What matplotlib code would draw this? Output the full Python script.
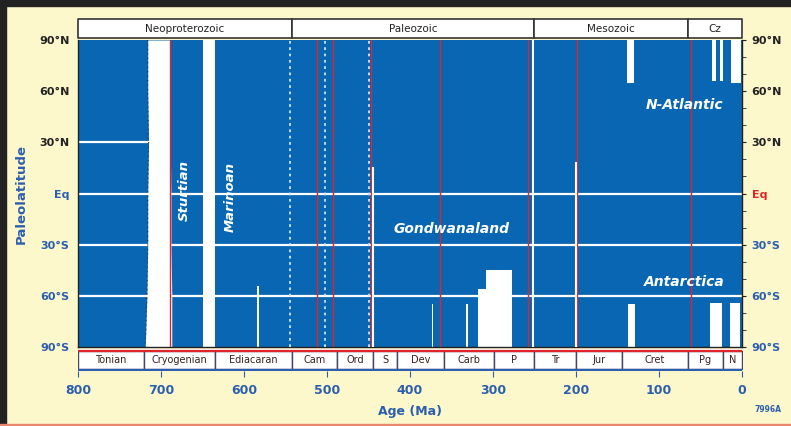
import numpy as np
import matplotlib
matplotlib.use("Agg")
import matplotlib.pyplot as plt
from matplotlib.patches import Rectangle

# --- data ---
BLUE = "#0866b2"
CREAM = "#fdf8cc"
TXT_BLUE = "#2b5fae"
RED = "#e0242a"

eras = ["Neoproterozoic", "Paleozoic", "Mesozoic", "Cz"]
era_start = [1000, 542, 251, 65.5]
era_end = [542, 251, 65.5, 0]

periods = ["Tonian", "Cryogenian", "Ediacaran", "Cam", "Ord", "S", "Dev",
           "Carb", "P", "Tr", "Jur", "Cret", "Pg", "N"]
period_start = [1000, 720, 635, 542, 488, 444, 416, 359, 299, 251, 200, 145, 65.5, 23]
period_end = period_start[1:] + [0]

age_ticks = [800, 700, 600, 500, 400, 300, 200, 100, 0]
lat_ticks = [90, 60, 30, 0, -30, -60, -90]
lat_labels = ["90°N", "60°N", "30°N", "Eq", "30°S", "60°S", "90°S"]

# Sturtian ice band: latitude profile of its old / young edges (Ma)
sturt_lat = [90, 60, 30, 0, -30, -60, -90]
sturt_old = [716, 716, 715, 716, 716, 717, 719]
sturt_young = [689, 689, 689, 688, 688, 687, 687]

# other ice patches: (old age, young age, south lat, north lat)
ice_old = [649, 318, 308, 138, 137, 36, 27, 13, 38, 15, 447, 584, 374, 332]
ice_young = [635, 277, 277, 130, 129, 31, 23, 1.5, 24, 3, 443, 582, 372, 330]
ice_lo = [-90, -90, -56, 65, -90, 66, 66, 65, -90, -90, -90, -90, -90, -90]
ice_hi = [90, -56, -45, 90, -65, 90, 90, 90, -64, -64, -38, -54, -65, -65]

# thin vertical marker lines
red_lines = [689, 512, 493, 447, 364, 258, 199, 61]
dotted_lines = [545, 503, 449]
white_line_age = [252, 200, 444]
white_line_lo = [-90, -90, -90]
white_line_hi = [90, 18, 15]

grid_lat = [30, 0, -30, -60]
grid_from = [800, 800, 800, 800]
grid_to = [716, 0, 0, 0]

labels = ["Sturtian", "Marinoan", "Gondwanaland", "N-Atlantic", "Antarctica"]
label_age = [672, 617, 350, 69, 69]
label_lat = [2, -2, -21, 52, -52]
label_rot = [90, 90, 0, 0, 0]

W, H = 791, 426
fig = plt.figure(figsize=(W / 100, H / 100), dpi=100)
fig.patch.set_facecolor(CREAM)

# frame: dark strips on top/left, thin salmon line at bottom
fig.patches.append(Rectangle((0, 0), 6 / W, 1, transform=fig.transFigure, color="#222222"))
fig.patches.append(Rectangle((0, 1 - 6 / H), 1, 6 / H, transform=fig.transFigure, color="#222222"))
fig.patches.append(Rectangle((0, 0), 1, 2 / H, transform=fig.transFigure, color="#e9866e"))

x0, x1 = 78 / W, 742 / W
ax = fig.add_axes([x0, (H - 347) / H, x1 - x0, 307 / H])
ax.set_facecolor(BLUE)
ax.set_xlim(800, 0)
ax.set_ylim(-90, 90)

# grid
for lat, a0, a1 in zip(grid_lat, grid_from, grid_to):
    ax.plot([a0, a1], [lat, lat], color="white", lw=1.6, zorder=1)

# ice
ax.fill_betweenx(sturt_lat, sturt_old, sturt_young, color="white", lw=0, zorder=2)
ax.plot(sturt_old, sturt_lat, color="#333333", lw=0.8, ls=(0, (1, 3)), zorder=3)
for a0, a1, lo, hi in zip(ice_old, ice_young, ice_lo, ice_hi):
    ax.fill_between([a0, a1], [lo, lo], [hi, hi], color="white", lw=0, zorder=2)

for a in red_lines:
    ax.axvline(a, color=RED, lw=1.0, zorder=3)
for a in dotted_lines:
    ax.axvline(a, color="#cfe6ff", lw=1.3, ls=(0, (1.5, 2)), zorder=3)
for a, lo, hi in zip(white_line_age, white_line_lo, white_line_hi):
    ax.plot([a, a], [lo, hi], color="white", lw=1.5, zorder=3)

for t, a, l, r in zip(labels, label_age, label_lat, label_rot):
    ax.text(a, l, t, color="white", fontsize=10 if r == 0 else 9.5, style="italic",
            fontweight="bold", rotation=r, ha="center", va="center", zorder=4)

ax.set_xticks([])
ax.set_yticks(lat_ticks)
ax.set_yticklabels(lat_labels, fontsize=8, fontweight="bold")
ax.tick_params(axis="y", length=0, pad=6)
for lab, c in zip(ax.get_yticklabels(), ["#222"] * 3 + [TXT_BLUE] * 4):
    lab.set_color(c)
for s in ax.spines.values():
    s.set_color("#222222")
    s.set_linewidth(1.0)
ax.spines["top"].set_visible(False)
ax.set_ylabel("Paleolatitude", fontsize=9.5, fontweight="bold", color=TXT_BLUE, labelpad=8)

axr = ax.twinx()
axr.set_ylim(-90, 90)
axr.set_yticks(lat_ticks)
axr.set_yticklabels(lat_labels, fontsize=8, fontweight="bold")
axr.set_yticks(np.arange(-90, 91, 10), minor=True)
axr.tick_params(axis="y", which="both", direction="out", length=3, color="#222", pad=4)
for lab, c in zip(axr.get_yticklabels(), ["#222"] * 3 + [RED] + [TXT_BLUE] * 3):
    lab.set_color(c)
for s in axr.spines.values():
    s.set_visible(False)

# era band
ax_e = fig.add_axes([x0, (H - 38) / H, x1 - x0, 19 / H])
ax_e.set_xlim(800, 0)
ax_e.set_ylim(0, 1)
ax_e.axis("off")
for name, a0, a1 in zip(eras, era_start, era_end):
    a0c = min(a0, 800)
    ax_e.fill_between([a0c, a1], [0, 0], [1, 1], facecolor="white",
                      edgecolor="#333333", lw=1.2, clip_on=False)
    ax_e.text((a0c + a1) / 2, 0.5, name, fontsize=7.5, ha="center", va="center", color="#222")

# period band
ax_p = fig.add_axes([x0, (H - 371) / H, x1 - x0, 22 / H])
ax_p.set_xlim(800, 0)
ax_p.set_ylim(0, 1)
for name, a0, a1 in zip(periods, period_start, period_end):
    a0c = min(a0, 800)
    ax_p.fill_between([a0c, a1], [0.08, 0.08], [0.92, 0.92], facecolor="white",
                      edgecolor="#444466", lw=1.0)
    ax_p.text((a0c + a1) / 2, 0.5, name, fontsize=7, ha="center", va="center", color="#3a2020")
ax_p.axhline(0.92, color=RED, lw=1.6)
ax_p.axhline(0.06, color=TXT_BLUE, lw=1.6)
for s in ax_p.spines.values():
    s.set_visible(False)
ax_p.set_yticks([])
ax_p.set_xticks(age_ticks)
ax_p.set_xticklabels([str(a) for a in age_ticks], fontsize=9, fontweight="bold", color=TXT_BLUE)
ax_p.tick_params(axis="x", length=4, color=TXT_BLUE, pad=5)
ax_p.set_xlabel("Age (Ma)", fontsize=9, fontweight="bold", color=TXT_BLUE, labelpad=6)

fig.text(768 / W, 1 - 410 / H, "7996A", fontsize=5.5, color=TXT_BLUE, ha="center", va="center",
         fontweight="bold")

fig.savefig("out.png", dpi=100, facecolor=CREAM)
